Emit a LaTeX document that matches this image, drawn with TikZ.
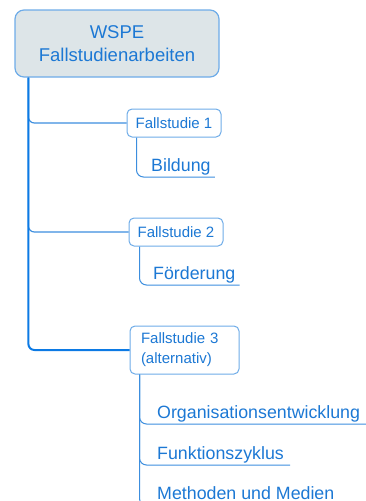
\documentclass[tikz,border=0pt]{standalone}
\usepackage{fontspec}
\setmainfont{Liberation Sans}
\definecolor{txtblue}{RGB}{28,120,212}
\definecolor{trunkblue}{RGB}{12,122,228}
\definecolor{boxblue}{RGB}{110,172,232}
\definecolor{linkblue}{RGB}{60,142,222}
\definecolor{rootfill}{RGB}{221,229,232}
\begin{document}
\begin{tikzpicture}[x=1pt,y=1pt,
  rootbox/.style={draw=boxblue, line width=1.2pt, fill=rootfill, rounded corners=9pt,
    minimum width=204pt, minimum height=67pt, inner sep=0pt, align=center,
    text=txtblue, font=\fontsize{18.5}{23}\selectfont},
  casebox/.style={draw=boxblue, line width=1pt, fill=white, rounded corners=5pt,
    minimum width=94pt, minimum height=28pt, inner sep=0pt, align=center,
    text=txtblue, font=\fontsize{15}{20}\selectfont},
  leaf/.style={anchor=base west, inner sep=0pt, text=txtblue, font=\fontsize{17.8}{21}\selectfont},
  trunk/.style={draw=trunkblue, line width=2pt, rounded corners=6pt},
  branch/.style={draw=linkblue, line width=1.2pt, rounded corners=6pt},
  twig/.style={draw=linkblue, line width=1pt, rounded corners=7pt}]
\useasboundingbox (0,0) rectangle (366,-501);
\node[rootbox] (root) at (117,-43.5) {WSPE\\Fallstudienarbeiten};
\node[casebox] (fs1) at (174,-123) {Fallstudie 1};
\node[casebox] (fs2) at (176,-232) {Fallstudie 2};
\node[casebox, minimum width=109pt, minimum height=48pt, text width=87pt,
  inner xsep=11pt, align=left] (fs3) at (184.5,-350) {Fallstudie 3\\(alternativ)};
\node[leaf] (bildung) at (151,-171) {Bildung};
\node[leaf] (foerderung) at (153,-279) {Förderung};
\node[leaf] (orga) at (157,-418) {Organisationsentwicklung};
\node[leaf] (funk) at (157,-459) {Funktionszyklus};
\node[leaf] (meth) at (157,-499.5) {Methoden und Medien};
% trunk and branches
\draw[branch] ([xshift=14pt]root.south west) |- (fs1.west);
\draw[branch] ([xshift=14pt]root.south west) |- (fs2.west);
\draw[trunk] ([xshift=14pt]root.south west) |- (fs3.west);
% leaves
\draw[twig] ([xshift=10pt]fs1.south west) |- ([xshift=4pt,yshift=-6pt]bildung.base east);
\draw[twig] ([xshift=11pt]fs2.south west) |- ([xshift=4pt,yshift=-6pt]foerderung.base east);
\draw[twig] ([xshift=10pt]fs3.south west) |- ([xshift=6pt,yshift=-6pt]orga.base east);
\draw[twig] ([xshift=10pt]fs3.south west) |- ([xshift=6pt,yshift=-6pt]funk.base east);
\draw[twig] ([xshift=10pt]fs3.south west) |- ([xshift=6pt,yshift=-6pt]meth.base east);
\end{tikzpicture}
\end{document}
